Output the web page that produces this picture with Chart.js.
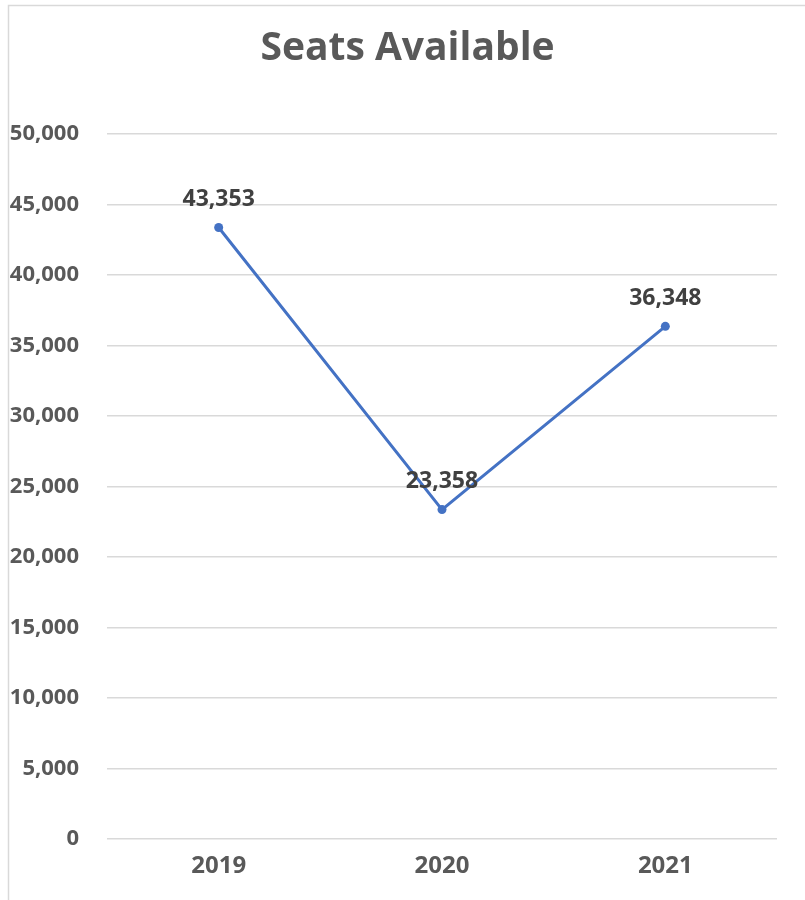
<!DOCTYPE html>
<html>
<head>
<meta charset="utf-8">
<script src="https://cdn.jsdelivr.net/npm/chart.js@4/dist/chart.umd.min.js"></script>
<style>
  html, body { margin: 0; padding: 0; background: #fff; }
  #wrap { width: 805px; height: 900px; position: relative; }
</style>
</head>
<body>
<div id="wrap"><canvas id="seatsChart"></canvas></div>
<script>
const years = ['2019', '2020', '2021'];
const seats = [43353, 23358, 36348];
const yTicks = [0, 5000, 10000, 15000, 20000, 25000, 30000, 35000, 40000, 45000, 50000];

const FONT = "'Open Sans', sans-serif";
const fmt = v => v.toLocaleString('en-US');

// light grey frame round the whole chart
const framePlugin = {
    id: 'frame',
    beforeDraw(chart) {
        const c = chart.ctx;
        c.save();
        c.strokeStyle = '#d9d9d9';
        c.lineWidth = 1.5;
        c.strokeRect(8.5, 5.5, chart.width + 20, chart.height + 20);
        c.restore();
    }
};

// value labels above each point
const valueLabels = {
    id: 'valueLabels',
    afterDatasetsDraw(chart) {
        const c = chart.ctx;
        const meta = chart.getDatasetMeta(0);
        c.save();
        c.font = 'bold 23px ' + FONT;
        c.fillStyle = '#404040';
        c.textAlign = 'center';
        c.textBaseline = 'middle';
        meta.data.forEach((pt, i) => {
            c.fillText(fmt(seats[i]), pt.x, pt.y - 28);
        });
        c.restore();
    }
};

new Chart(document.getElementById('seatsChart'), {
    type: 'line',
    data: {
        labels: years,
        datasets: [{
            data: seats,
            borderColor: '#4472c4',
            backgroundColor: '#4472c4',
            borderWidth: 3,
            pointRadius: 4.5,
            pointBackgroundColor: '#4472c4',
            pointBorderWidth: 0,
            tension: 0
        }]
    },
    options: {
        responsive: true,
        maintainAspectRatio: false,
        animation: false,
        layout: { padding: { left: 10, right: 0, top: 0, bottom: 0 } },
        plugins: {
            legend: { display: false },
            tooltip: { enabled: false },
            title: {
                display: true,
                text: 'Seats Available',
                color: '#595959',
                font: { family: FONT, size: 39, weight: 'bold' },
                padding: { top: 25, bottom: 62 }
            }
        },
        scales: {
            x: {
                offset: true,
                grid: { display: false, drawTicks: false },
                border: { display: false },
                ticks: {
                    color: '#595959',
                    font: { family: FONT, size: 24, weight: 'bold' },
                    padding: 13
                },
                afterFit(axis) { axis.height = 61; }
            },
            y: {
                min: 0,
                max: 50000,
                afterBuildTicks(axis) { axis.ticks = yTicks.map(v => ({ value: v })); },
                grid: { color: '#d9d9d9', lineWidth: 1.5, drawTicks: false },
                border: { display: false },
                ticks: {
                    color: '#595959',
                    font: { family: FONT, size: 22, weight: 'bold' },
                    padding: 28,
                    callback: v => fmt(v)
                },
                afterFit(axis) { axis.width = 97; }
            },
            // empty right-hand margin so the title sits centred on the frame
            yRight: {
                position: 'right',
                grid: { display: false, drawTicks: false },
                border: { display: false },
                ticks: { display: false },
                afterFit(axis) { axis.width = 28; }
            }
        }
    },
    plugins: [framePlugin, valueLabels]
});
</script>
</body>
</html>
